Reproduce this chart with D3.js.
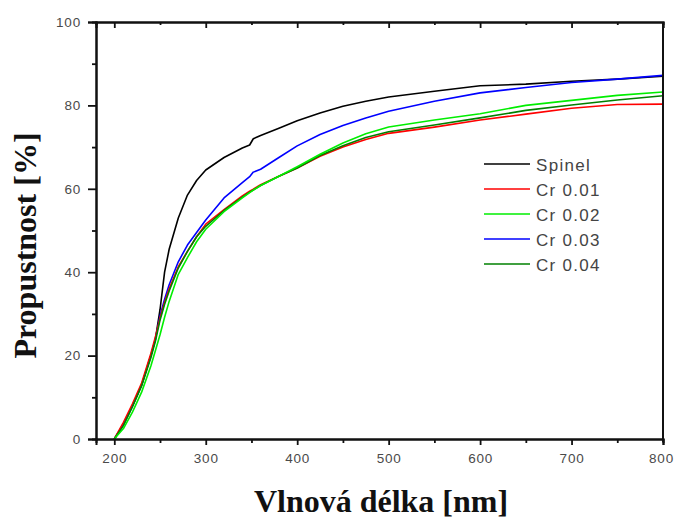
<!DOCTYPE html>
<html>
<head>
<meta charset="utf-8">
<script src="https://cdn.jsdelivr.net/npm/d3@7"></script>
<style>
  html, body { margin: 0; padding: 0; background: #fff; }
  svg { display: block; }
</style>
</head>
<body>
<svg id="chart" width="675" height="519"></svg>
<script>
// Wavelength (nm) sample points
const wavelengths = [200, 210, 220, 230, 240, 245, 250, 255, 260, 270, 280, 290, 300, 320, 340, 348, 352, 360, 380, 400, 425, 450, 475, 500, 550, 600, 650, 700, 750, 800];

// Transmittance (%) per series
const spinel = [0, 3.5, 8, 13, 20, 24, 31, 40, 45.5, 53, 58.5, 62, 64.5, 67.5, 69.8, 70.5, 72, 72.8, 74.5, 76.3, 78.2, 79.8, 81, 82, 83.4, 84.7, 85.1, 85.8, 86.3, 87];
const cr001  = [0, 4, 8.5, 13.5, 20.5, 24.5, 29, 32.8, 36, 41.3, 45, 48.5, 51.5, 55, 58.3, 59.4, 59.9, 61, 63, 65, 67.8, 70, 71.8, 73.3, 74.8, 76.5, 77.9, 79.3, 80.2, 80.3];
const cr002  = [0, 2.5, 6.5, 11.3, 17.5, 21.2, 25, 29.2, 33, 39.5, 43.5, 47.3, 50.3, 54.5, 57.8, 59.1, 59.7, 60.8, 63, 65.3, 68.3, 71, 73.2, 74.8, 76.5, 78, 80, 81.2, 82.4, 83.2];
const cr003  = [0, 3.5, 8, 13, 20, 24, 29.5, 33.5, 37, 42.5, 46.5, 49.5, 52.5, 57.8, 61.5, 62.9, 64, 64.7, 67.5, 70.3, 73, 75.2, 77, 78.6, 81, 83, 84.3, 85.5, 86.3, 87.2];
const cr004  = [0, 3.2, 7.8, 12.8, 19.5, 23.5, 28.5, 32.3, 35.5, 41, 45, 48.5, 51, 54.8, 58, 59.2, 59.7, 60.8, 63, 65, 68, 70.3, 72.3, 73.7, 75.3, 77, 78.8, 80.1, 81.3, 82.3];

const seriesNames  = ["Spinel", "Cr 0.01", "Cr 0.02", "Cr 0.03", "Cr 0.04"];
const seriesValues = [spinel, cr001, cr002, cr003, cr004];
const seriesColors = ["#000000", "#ff0000", "#00ee00", "#0000ff", "#008000"];

const xTicks = [200, 300, 400, 500, 600, 700, 800];
const xMinorTicks = [250, 350, 450, 550, 650, 750];
const yTicks = [0, 20, 40, 60, 80, 100];
const yMinorTicks = [10, 30, 50, 70, 90];

const xTitle = "Vlnová délka [nm]";
const yTitle = "Propustnost [%]";

// Layout
const L = 96, R = 663, T = 22, B = 439;
const svg = d3.select("#chart");

const x = d3.scaleLinear().domain([180, 800]).range([L, R]);
const y = d3.scaleLinear().domain([0, 100]).range([B, T]);

// Curves
const line = d3.line().x(d => x(d[0])).y(d => y(d[1]));
const drawOrder = [0, 3, 1, 4, 2];
const plot = svg.append("g");
drawOrder.forEach(i => {
  const pts = wavelengths.map((w, k) => [w, seriesValues[i][k]]);
  plot.append("path")
    .datum(pts)
    .attr("fill", "none")
    .attr("stroke", seriesColors[i])
    .attr("stroke-width", 1.6)
    .attr("stroke-linejoin", "round")
    .attr("d", line);
});

const tickFont = "'Liberation Sans', Arial, sans-serif";

function styleAxis(g) {
  g.selectAll("path.domain").attr("stroke", "#111").attr("stroke-width", 2);
  g.selectAll(".tick line").attr("stroke", "#111").attr("stroke-width", 1.8);
  g.selectAll(".tick text")
    .attr("fill", "#4a4a4a")
    .style("font-family", tickFont)
    .style("font-size", "13.5px")
    .style("letter-spacing", "0.8px");
}

// Bottom axis
const gB = svg.append("g").attr("transform", `translate(0,${B})`)
  .call(d3.axisBottom(x).tickValues(xTicks).tickSize(6).tickPadding(8).tickFormat(d3.format("d")));
styleAxis(gB);
// keep the last label inside the window
gB.selectAll(".tick text").filter(d => d === 800).attr("dx", -2);
const gBm = svg.append("g").attr("transform", `translate(0,${B})`)
  .call(d3.axisBottom(x).tickValues(xMinorTicks).tickSize(4).tickFormat(""));
styleAxis(gBm);

// Top axis (ticks inward)
const gT = svg.append("g").attr("transform", `translate(0,${T})`)
  .call(d3.axisBottom(x).tickValues(xTicks).tickSize(6).tickFormat(""));
styleAxis(gT);
const gTm = svg.append("g").attr("transform", `translate(0,${T})`)
  .call(d3.axisBottom(x).tickValues(xMinorTicks).tickSize(3).tickFormat(""));
styleAxis(gTm);

// Left axis
const gL = svg.append("g").attr("transform", `translate(${L},0)`)
  .call(d3.axisLeft(y).tickValues(yTicks).tickSize(8).tickPadding(7).tickFormat(d3.format("d")));
styleAxis(gL);
const gLm = svg.append("g").attr("transform", `translate(${L},0)`)
  .call(d3.axisLeft(y).tickValues(yMinorTicks).tickSize(4).tickFormat(""));
styleAxis(gLm);

// Right spine
svg.append("line")
  .attr("x1", R).attr("x2", R).attr("y1", T).attr("y2", B + 3)
  .attr("stroke", "#111").attr("stroke-width", 2);

// Axis titles
svg.append("text")
  .attr("x", (255 + 507) / 2)
  .attr("y", 512)
  .attr("text-anchor", "middle")
  .style("font-family", "'Liberation Serif', 'Times New Roman', serif")
  .style("font-weight", "bold")
  .style("font-size", "32px")
  .attr("fill", "#111")
  .text(xTitle);

svg.append("text")
  .attr("transform", `translate(36,${(133 + 358) / 2}) rotate(-90)`)
  .attr("text-anchor", "middle")
  .style("font-family", "'Liberation Serif', 'Times New Roman', serif")
  .style("font-weight", "bold")
  .style("font-size", "32px")
  .attr("fill", "#111")
  .text(yTitle);

// Legend
const legend = svg.append("g");
seriesNames.forEach((name, i) => {
  const ly = 164 + i * 25;
  legend.append("line")
    .attr("x1", 484).attr("x2", 530)
    .attr("y1", ly).attr("y2", ly)
    .attr("stroke", seriesColors[i])
    .attr("stroke-width", 1.6);
  legend.append("text")
    .attr("x", 536)
    .attr("y", ly + 6.5)
    .attr("fill", "#444")
    .style("font-family", tickFont)
    .style("font-size", "17px")
    .style("letter-spacing", "1.3px")
    .text(name);
});
</script>
</body>
</html>
